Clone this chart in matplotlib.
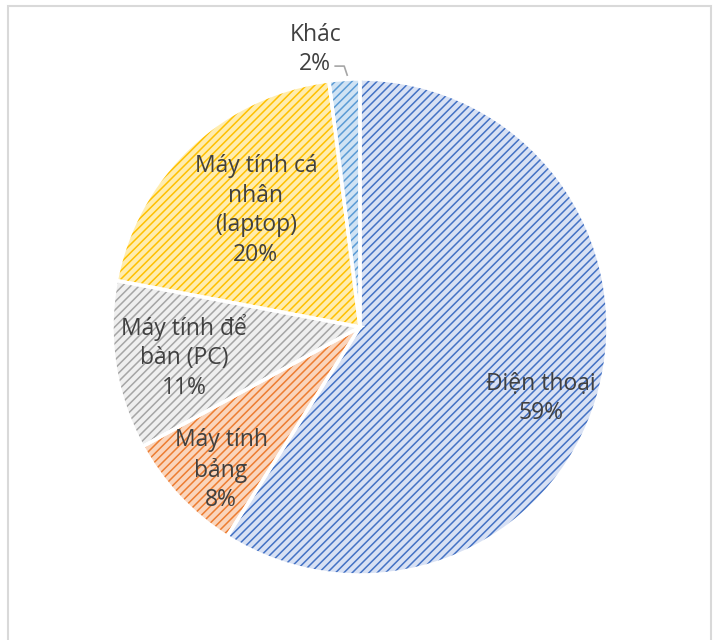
import matplotlib
matplotlib.use("Agg")
import matplotlib.pyplot as plt
from matplotlib.patches import Rectangle
import numpy as np

categories = ["Điện thoại", "Máy tính bảng", "Máy tính để bàn (PC)", "Máy tính cá nhân (laptop)", "Khác"]
values = [59, 8, 11, 20, 2]
label_texts = ["Điện thoại\n59%", "Máy tính\nbảng\n8%", "Máy tính để\nbàn (PC)\n11%",
               "Máy tính cá\nnhân\n(laptop)\n20%", "Khác\n2%"]

hatch_colors = ["#4472C4", "#ED7D31", "#A5A5A5", "#FFC000", "#5B9BD5"]
fill_colors = ["#D8E1F4", "#FAD5BC", "#EFEFEF", "#FFEDAE", "#D0E3F4"]
# label centers relative to pie center, in units of radius (x right, y up)
label_offsets = [(0.73, -0.288), (-0.56, -0.578), (-0.71, -0.12), (-0.42, 0.47), (-0.18, 1.12)]

plt.rcParams['font.family'] = ['Open Sans', 'Noto Sans', 'DejaVu Sans']
plt.rcParams['hatch.linewidth'] = 1.1

W, H = 713, 640
fig = plt.figure(figsize=(W / 100, H / 100), dpi=100)
ax = fig.add_axes([0, 0, 1, 1])

cx, cy, r = 360, 640 - 327, 248

wedges, _ = ax.pie(values, startangle=90, counterclock=False, center=(cx, cy), radius=r,
                   colors=fill_colors, wedgeprops=dict(linewidth=0))
for w, hc in zip(wedges, hatch_colors):
    w.set_edgecolor(hc)
    w.set_hatch('////')
    w.set_linewidth(0)

ax.pie(values, startangle=90, counterclock=False, center=(cx, cy), radius=r,
       colors=['none'] * len(values), wedgeprops=dict(linewidth=2.5, edgecolor='white'))

ax.set_xlim(0, W)
ax.set_ylim(0, H)
ax.set_aspect('equal')
ax.axis('off')

for txt, (dx, dy) in zip(label_texts, label_offsets):
    ax.text(cx + dx * r, cy + dy * r, txt, ha='center', va='center', fontsize=16.5,
            color='#404040', linespacing=1.3, multialignment='center')

# leader line for "Khác"
kx0, ky0 = cx - 0.10 * r, cy + 1.052 * r
ax.plot([kx0, kx0 + 9, kx0 + 12], [ky0, ky0, ky0 - 9], color='#A6A6A6', lw=1.2)

fig.patches.append(Rectangle((8 / W, -0.05), (711 - 8) / W, 1.05 - 6 / H,
                             transform=fig.transFigure, fill=False,
                             edgecolor='#D9D9D9', linewidth=1.5))

fig.savefig("out.png", dpi=100)
